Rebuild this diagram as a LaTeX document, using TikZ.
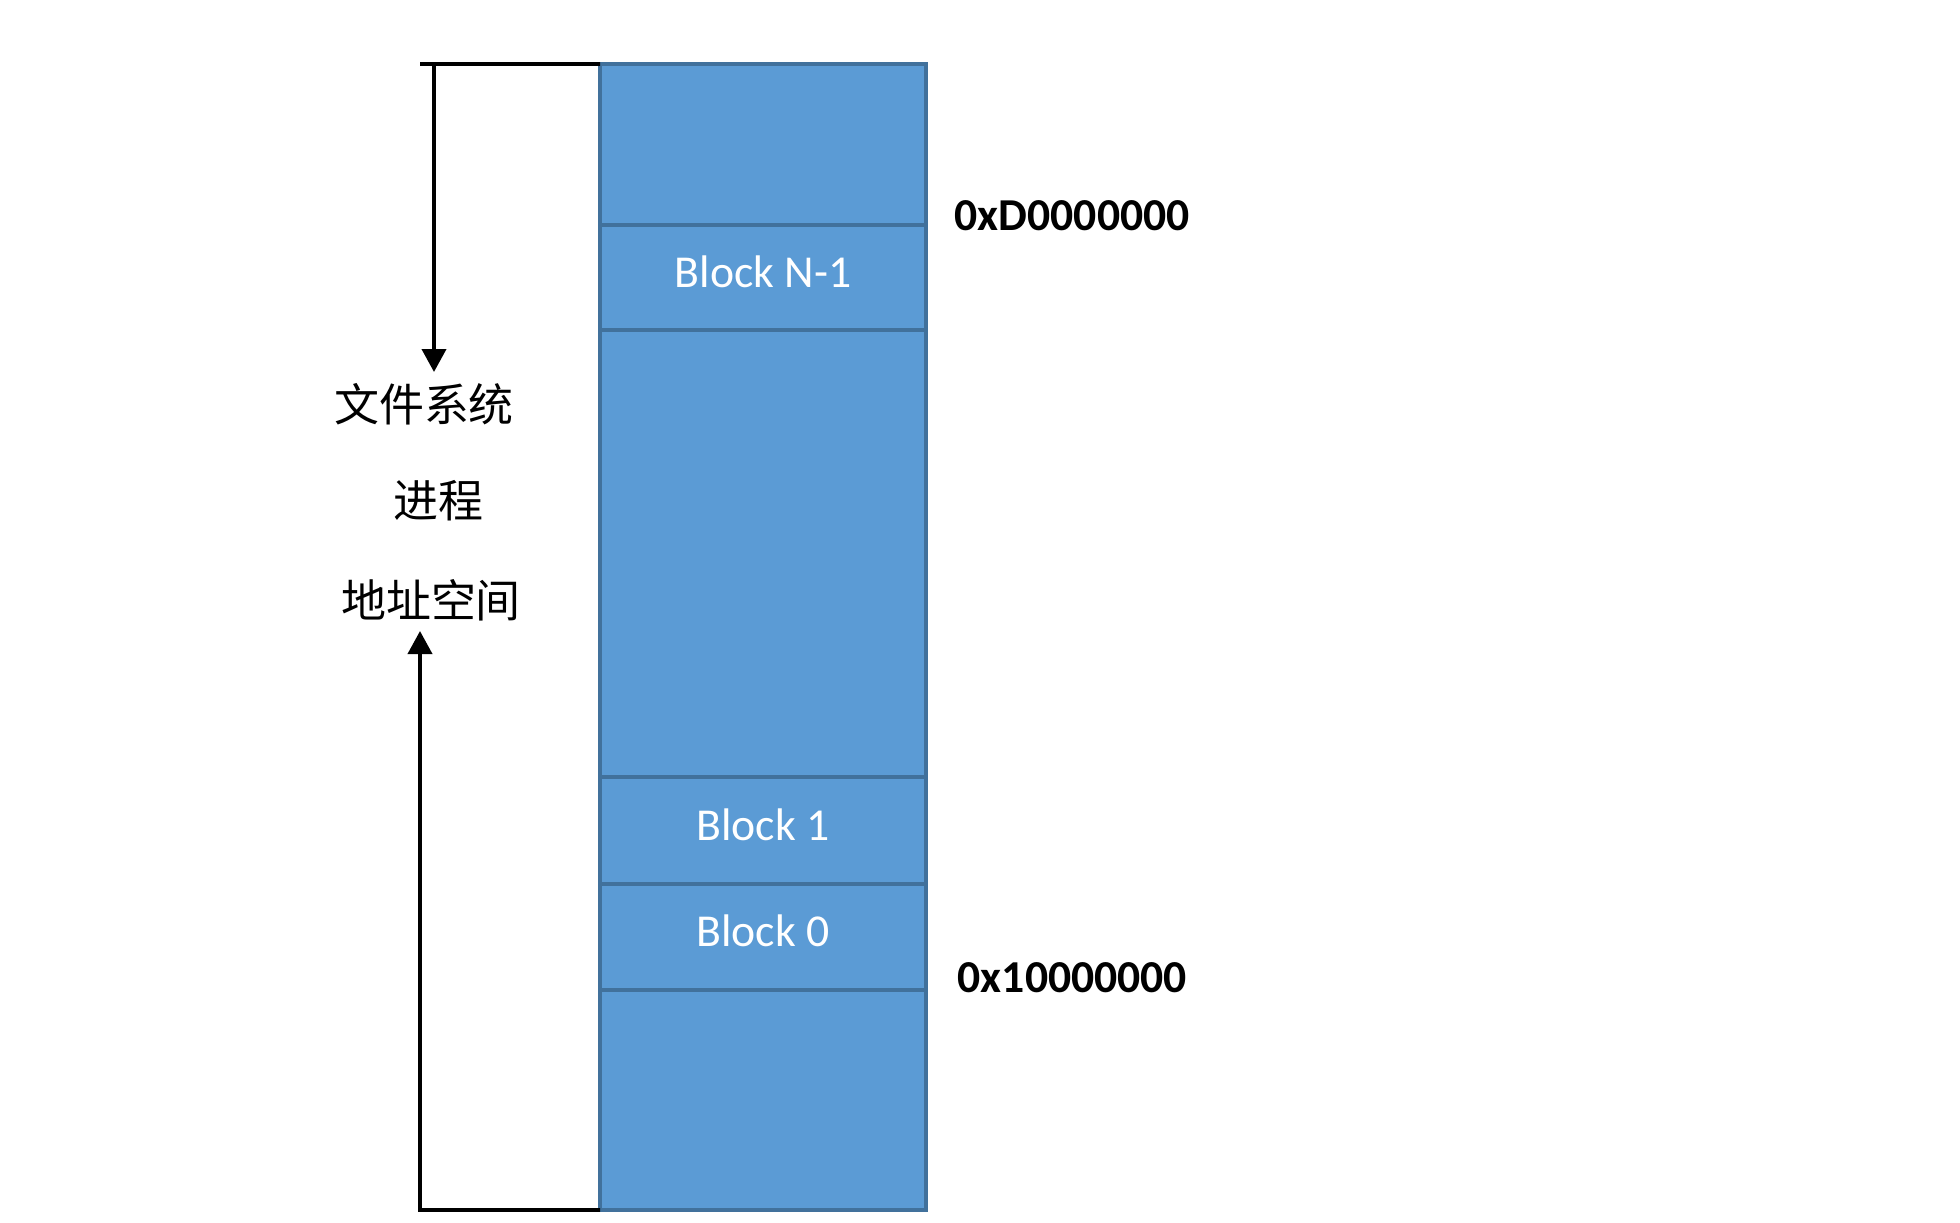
\documentclass[tikz,border=0pt]{standalone}
\usepackage{fontspec}
\newfontfamily\calibri{Carlito}
\newfontfamily\cjk{Noto Sans CJK SC}
\usetikzlibrary{arrows.meta,positioning}
\definecolor{segfill}{HTML}{5B9BD5}
\definecolor{segline}{HTML}{41719C}

\begin{document}
\begin{tikzpicture}[
    x=0.1mm, y=-0.1mm,
    >={Triangle[length=2.3mm,width=2.4mm]},
    node distance=0pt,
    seg/.style={
        rectangle, draw=segline, line width=1.1pt,
        fill=segfill, minimum width=32.6mm,
        inner sep=0pt, outer sep=0pt, text depth=1.2mm,
        font=\calibri\fontsize{13}{15}\selectfont, text=white
    },
    addr/.style={
        inner sep=0pt,
        font=\calibri\bfseries\fontsize{13}{15}\selectfont
    },
    lab/.style={
        inner sep=0pt,
        font=\cjk\fontsize{12.8}{15}\selectfont
    },
    arr/.style={->, line width=1.1pt, black},
    bar/.style={line width=1.1pt, black}
]
    \useasboundingbox (0,0) rectangle (1960,1222);

    % Memory column, top to bottom
    \node[seg, minimum height=16.1mm] (top) at (763,144.5) {};
    \node[seg, minimum height=10.5mm] (blkN) [below=of top]  {Block N-1};
    \node[seg, minimum height=44.7mm] (mid)  [below=of blkN] {};
    \node[seg, minimum height=10.7mm] (blk1) [below=of mid]  {Block 1};
    \node[seg, minimum height=10.6mm] (blk0) [below=of blk1] {Block 0};
    \node[seg, minimum height=22mm]   (bot)  [below=of blk0] {};

    % Addresses
    \node[addr, anchor=west] (addrD) at ([xshift=2.8mm, yshift=0.9mm]top.south east) {0xD0000000};
    \node[addr, anchor=west] (addr1) at ([xshift=3.1mm, yshift=1.2mm]blk0.south east) {0x10000000};

    % Labels
    \node[lab] (fs)   at (424,404) {文件系统};
    \node[lab] (proc) at (438,501) {进程};
    \node[lab] (as)   at (431,600) {地址空间};

    % Brackets
    \coordinate (tl)  at (420,64);
    \coordinate (dn0) at (434,64);
    \coordinate (dn1) at (434,372);
    \coordinate (bl)  at (420,1210);
    \coordinate (up1) at (420,631);

    \draw[bar] (top.north west) -- (tl);
    \draw[arr] (dn0) -- (dn1);
    \draw[arr] (bot.south west) -- (bl) -- (up1);

\end{tikzpicture}
\end{document}
